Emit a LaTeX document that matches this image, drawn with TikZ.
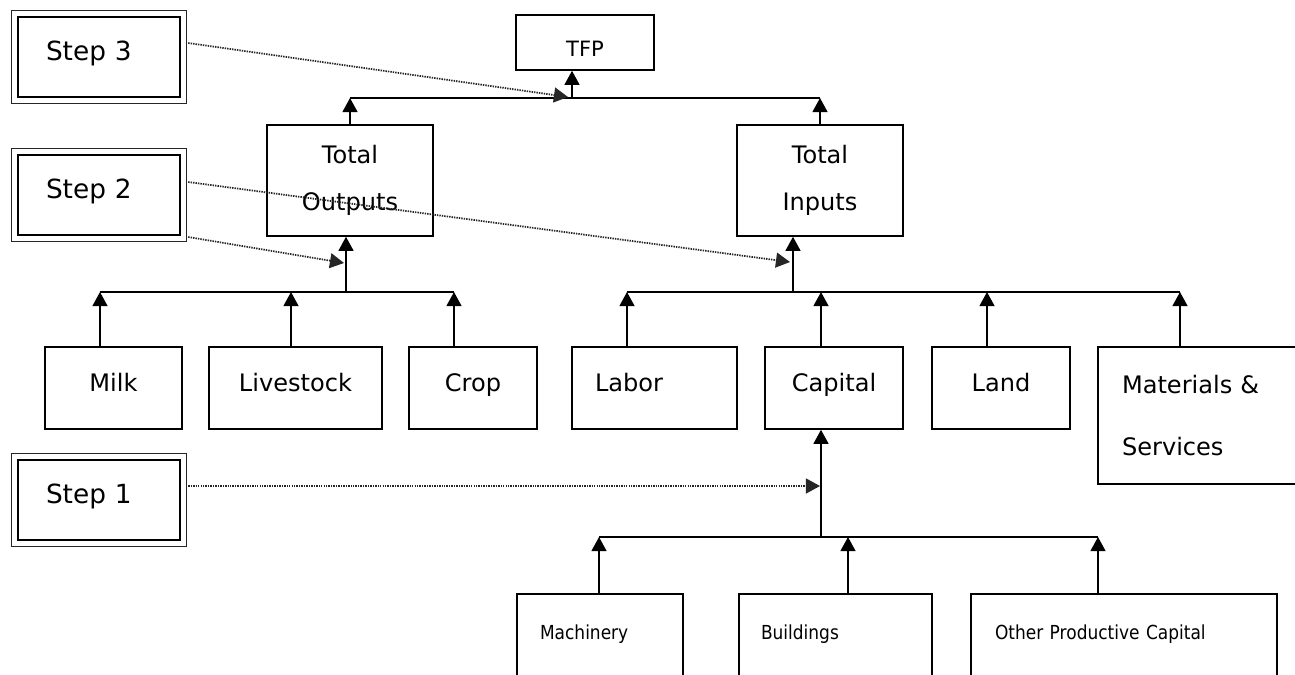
\documentclass[tikz,border=0pt]{standalone}
\usepackage{fontspec}
\setmainfont{DejaVu Sans}
\newfontfamily\narrowfont{DejaVu Sans}[FakeStretch=0.88]
\usetikzlibrary{arrows.meta}

\newcommand{\lbl}{\fontsize{13.7}{16}\selectfont}

\begin{document}
\begin{tikzpicture}[x=0.02cm,y=-0.02cm,
    box/.style={draw,line width=0.9pt,inner sep=0pt,font=\lbl,align=center},
    rowbox/.style={box,minimum height=1.64cm,text height=0.4cm,text depth=0.25cm},
    capbox/.style={draw,line width=0.9pt,inner sep=0pt,anchor=north,align=left,
        text height=0.92cm,text depth=1cm,font=\narrowfont\fontsize{11}{13}\selectfont},
    stepbox/.style={draw,line width=1.4pt,inner sep=0pt,minimum width=3.24cm,minimum height=1.6cm,
        text width=2.12cm,inner xsep=0.56cm,align=left,text height=0.4cm,text depth=0.28cm,
        font=\fontsize{15}{18}\selectfont},
    arr/.style={line width=0.9pt,-{Triangle[length=8pt,width=8.5pt]}},
    dotarr/.style={arr,black!85,line width=1pt,dash pattern=on 0.8pt off 0.6pt}]
    \useasboundingbox (0,0) rectangle (1295,674);

    \node[box,minimum width=2.76cm,minimum height=1.1cm,text height=0.57cm,text depth=0pt,
        font=\fontsize{12}{14}\selectfont] (tfp) at (585,42.5) {TFP};
    \node[box,minimum width=3.32cm,minimum height=2.22cm,font=\fontsize{13.7}{26.6}\selectfont] (tout) at (350,180.5) {Total\\Outputs};
    \node[box,minimum width=3.32cm,minimum height=2.22cm,font=\fontsize{13.7}{26.6}\selectfont] (tin) at (820,180.5) {Total\\Inputs};

    \node[rowbox,minimum width=2.74cm] (milk) at (113.5,388) {Milk};
    \node[rowbox,minimum width=3.46cm] (livestock) at (295.5,388) {Livestock};
    \node[rowbox,minimum width=2.56cm] (crop) at (473,388) {Crop};
    \node[rowbox,align=left,text width=2.38cm,inner xsep=0.46cm] (labor) at (654.5,388) {Labor};
    \node[rowbox,minimum width=2.76cm] (capital) at (834,388) {Capital};
    \node[rowbox,minimum width=2.76cm] (land) at (1001,388) {Land};
    \node[box,minimum height=2.74cm,align=left,text width=3.28cm,inner xsep=0.48cm,
        font=\fontsize{13.7}{35.7}\selectfont] (mats) at (1204,415.5) {Materials \&\\Services};

    \node[capbox,text width=2.4cm,inner xsep=0.46cm] (machinery) at (600,593) {Machinery};
    \node[capbox,text width=2.98cm,inner xsep=0.44cm] (buildings) at (835.5,593) {Buildings};
    \node[capbox,text width=5.16cm,inner xsep=0.48cm] (otherkap) at (1124,593) {Other Productive Capital};

    \node[stepbox] (s3) at (99,57) {Step 3};
    \node[stepbox] (s2) at (99,195) {Step 2};
    \node[stepbox] (s1) at (99,500) {Step 1};
    \foreach \s in {s1,s2,s3}
        \draw[line width=0.8pt,black!85] ([shift={(-5,-5)}]\s.north west) rectangle ([shift={(5,5)}]\s.south east);

    \coordinate (topbus) at (572,98);
    \coordinate (outbus) at (346,292);
    \coordinate (inbus) at (793,292);
    \coordinate (capbus) at (821,537);

    % TFP level
    \draw[line width=0.9pt] (tout.north |- topbus) -- (tin.north |- topbus);
    \draw[arr] (tout.north) -- (tout.north |- topbus);
    \draw[arr] (tin.north) -- (tin.north |- topbus);
    \draw[arr] (topbus) -- (tfp.south -| topbus);

    % outputs
    \draw[arr] (outbus) -- (tout.south -| outbus);
    \draw[line width=0.9pt] (outbus -| 100,0) -- (outbus -| 454,0);
    \foreach \n/\x in {milk/100,livestock/291,crop/454}
        \draw[arr] (\n.north -| \x,0) -- (outbus -| \x,0);

    % inputs
    \draw[arr] (inbus) -- (tin.south -| inbus);
    \draw[line width=0.9pt] (inbus -| 627,0) -- (inbus -| 1180,0);
    \foreach \n/\x in {labor/627,capital/821,land/987,mats/1180}
        \draw[arr] (\n.north -| \x,0) -- (inbus -| \x,0);

    % capital
    \draw[arr] (capbus) -- (capital.south -| capbus);
    \draw[line width=0.9pt] (capbus -| 599,0) -- (capbus -| 1098,0);
    \foreach \n/\x in {machinery/599,buildings/848,otherkap/1098}
        \draw[arr] (\n.north -| \x,0) -- (capbus -| \x,0);

    % steps
    \draw[dotarr] ([shift={(7,-14)}]s3.east) -- ([shift={(-4,-1)}]topbus);
    \draw[dotarr] ([shift={(7,-13)}]s2.east) -- ([shift={(-3,-30)}]inbus);
    \draw[dotarr] ([shift={(7,42)}]s2.east) -- ([shift={(-2,-29)}]outbus);
    \draw[dotarr] ([shift={(7,-14)}]s1.east) -- ([shift={(-1,-51)}]capbus);
\end{tikzpicture}
\end{document}
